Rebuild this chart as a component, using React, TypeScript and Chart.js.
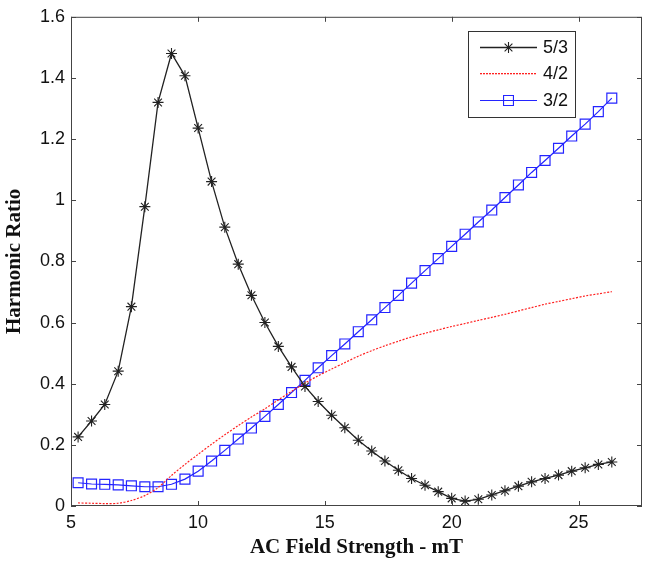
import React, { useEffect, useRef } from "react";
import { Chart, registerables } from "chart.js";

Chart.register(...registerables);

const fieldStrength = [
  5.28, 5.81, 6.33, 6.86, 7.38, 7.91, 8.43, 8.96, 9.49, 10.01,
  10.54, 11.06, 11.59, 12.11, 12.64, 13.17, 13.69, 14.22, 14.74, 15.27,
  15.79, 16.32, 16.85, 17.37, 17.9, 18.42, 18.95, 19.47, 20.0, 20.53,
  21.05, 21.58, 22.1, 22.63, 23.15, 23.68, 24.21, 24.73, 25.26, 25.78, 26.31,
];

const ratio53 = [
  0.226, 0.278, 0.332, 0.441, 0.652, 0.979, 1.32, 1.48, 1.407, 1.236,
  1.061, 0.912, 0.791, 0.689, 0.6, 0.522, 0.455, 0.391, 0.342, 0.297,
  0.256, 0.215, 0.18, 0.147, 0.117, 0.09, 0.068, 0.047, 0.025, 0.016,
  0.022, 0.036, 0.05, 0.065, 0.079, 0.09, 0.101, 0.114, 0.125, 0.136, 0.144,
];

const ratio42 = [
  0.01, 0.009, 0.008, 0.009, 0.018, 0.034, 0.06, 0.1, 0.136, 0.169,
  0.202, 0.233, 0.263, 0.291, 0.318, 0.347, 0.375, 0.402, 0.426, 0.448,
  0.469, 0.49, 0.508, 0.524, 0.539, 0.553, 0.565, 0.576, 0.587, 0.597,
  0.607, 0.617, 0.627, 0.638, 0.649, 0.66, 0.669, 0.678, 0.687, 0.694, 0.701,
];

const ratio32 = [
  0.076, 0.072, 0.071, 0.069, 0.066, 0.063, 0.063, 0.071, 0.088, 0.114,
  0.147, 0.182, 0.219, 0.255, 0.293, 0.332, 0.371, 0.411, 0.452, 0.492,
  0.53, 0.57, 0.609, 0.649, 0.689, 0.729, 0.77, 0.809, 0.849, 0.889,
  0.929, 0.968, 1.009, 1.05, 1.091, 1.13, 1.17, 1.21, 1.249, 1.29, 1.334,
];

const seriesLabels = ["5/3", "4/2", "3/2"];
const seriesColors = ["#222222", "#ff2020", "#2424ff"];
const xTickValues = [5, 10, 15, 20, 25];
const yTickValues = [0, 0.2, 0.4, 0.6, 0.8, 1, 1.2, 1.4, 1.6];

const SANS = "'Liberation Sans', Arial, sans-serif";
const SERIF = "'Liberation Serif', 'Times New Roman', serif";

const toPoints = (ys: number[]) => ys.map((y, i) => ({ x: fieldStrength[i], y }));

function drawMarker(ctx: CanvasRenderingContext2D, style: string, r: number, x: number, y: number) {
  ctx.beginPath();
  if (style === "rect") {
    const s = Math.SQRT1_2 * r;
    ctx.rect(x - s, y - s, 2 * s, 2 * s);
  } else if (style === "star") {
    ctx.moveTo(x - r, y);
    ctx.lineTo(x + r, y);
    ctx.moveTo(x, y - r);
    ctx.lineTo(x, y + r);
    const d = r * Math.SQRT1_2;
    ctx.moveTo(x - d, y - d);
    ctx.lineTo(x + d, y + d);
    ctx.moveTo(x - d, y + d);
    ctx.lineTo(x + d, y - d);
  }
  ctx.stroke();
}

const legendStyles = [
  { dotted: false, width: 1.3, marker: "star", radius: 5.5 },
  { dotted: true, width: 1.2, marker: "", radius: 0 },
  { dotted: false, width: 1.2, marker: "rect", radius: 7 },
];

const framePlugin = {
  id: "frameAndLegend",
  afterDraw(chart: any) {
    const { ctx, chartArea } = chart;
    const { left, right, top, bottom } = chartArea;
    const xs = chart.scales.x;
    const ys = chart.scales.y;
    ctx.save();
    ctx.setLineDash([]);
    ctx.strokeStyle = "#444";
    ctx.lineWidth = 1;
    ctx.strokeRect(left + 0.5, top + 0.5, right - left - 1, bottom - top - 1);
    const tl = 5;
    ctx.beginPath();
    xTickValues.forEach((v) => {
      const px = Math.round(xs.getPixelForValue(v)) + 0.5;
      ctx.moveTo(px, bottom);
      ctx.lineTo(px, bottom - tl);
      ctx.moveTo(px, top);
      ctx.lineTo(px, top + tl);
    });
    yTickValues.forEach((v) => {
      const py = Math.round(ys.getPixelForValue(v)) + 0.5;
      ctx.moveTo(left, py);
      ctx.lineTo(left + tl, py);
      ctx.moveTo(right, py);
      ctx.lineTo(right - tl, py);
    });
    ctx.stroke();

    // legend
    const bx = 468.5, by = 31.5, bw = 107, bh = 86;
    ctx.fillStyle = "#fff";
    ctx.fillRect(bx, by, bw, bh);
    ctx.strokeStyle = "#333";
    ctx.strokeRect(bx, by, bw, bh);
    const rowsY = [47, 73, 100];
    seriesLabels.forEach((label, i) => {
      const y = rowsY[i];
      const st = legendStyles[i];
      if (st.dotted) {
        ctx.fillStyle = seriesColors[i];
        for (let x = 480; x < 537; x += 3) {
          ctx.fillRect(x, y, 2, 1.3);
        }
      } else {
        ctx.strokeStyle = seriesColors[i];
        ctx.lineWidth = st.width;
        ctx.beginPath();
        ctx.moveTo(480, y + 0.5);
        ctx.lineTo(537, y + 0.5);
        ctx.stroke();
      }
      if (st.marker) {
        ctx.strokeStyle = seriesColors[i];
        ctx.lineWidth = 1.1;
        drawMarker(ctx, st.marker, st.radius, 508.5, y + 0.5);
      }
      ctx.fillStyle = "#111";
      ctx.font = `18px ${SANS}`;
      ctx.textAlign = "left";
      ctx.textBaseline = "middle";
      ctx.fillText(label, 543, y + 1.5);
    });
    ctx.restore();
  },
};

export default function App() {
  const canvasRef = useRef<HTMLCanvasElement | null>(null);

  useEffect(() => {
    if (!canvasRef.current) return;
    const chart = new Chart(canvasRef.current, {
      type: "line",
      data: {
        datasets: [
          {
            label: seriesLabels[0],
            data: toPoints(ratio53),
            borderColor: seriesColors[0],
            borderWidth: 1.3,
            pointStyle: "star",
            pointRadius: 5.5,
            pointBorderColor: seriesColors[0],
            pointBorderWidth: 1.1,
            pointBackgroundColor: "transparent",
            tension: 0,
            fill: false,
          },
          {
            label: seriesLabels[1],
            data: toPoints(ratio42),
            borderColor: seriesColors[1],
            borderWidth: 1.2,
            borderDash: [2, 1.5],
            pointRadius: 0,
            tension: 0.3,
            fill: false,
          },
          {
            label: seriesLabels[2],
            data: toPoints(ratio32),
            borderColor: seriesColors[2],
            borderWidth: 1.2,
            pointStyle: "rect",
            pointRadius: 7,
            pointBorderColor: seriesColors[2],
            pointBorderWidth: 1.2,
            pointBackgroundColor: "transparent",
            tension: 0,
            fill: false,
          },
        ],
      },
      options: {
        animation: false,
        responsive: false,
        events: [],
        layout: { padding: { top: 15, right: 9, left: 0, bottom: 0 } },
        plugins: {
          legend: { display: false },
          tooltip: { enabled: false },
        },
        scales: {
          x: {
            type: "linear",
            min: 5,
            max: 27.5,
            afterFit: (s: any) => {
              s.height = 64;
            },
            afterBuildTicks: (s: any) => {
              s.ticks = xTickValues.map((v) => ({ value: v }));
            },
            grid: { display: false, drawTicks: false },
            border: { display: false },
            ticks: {
              padding: 6,
              color: "#111",
              font: { family: SANS, size: 18 },
              maxRotation: 0,
              callback: (v: any) => String(v),
            },
            title: {
              display: true,
              text: "AC Field Strength - mT",
              color: "#111",
              font: { family: SERIF, size: 21, weight: "bold" },
              padding: { top: 0, bottom: 10 },
            },
          },
          y: {
            type: "linear",
            min: 0,
            max: 1.6,
            afterFit: (s: any) => {
              s.width = 71;
            },
            afterBuildTicks: (s: any) => {
              s.ticks = yTickValues.map((v) => ({ value: v }));
            },
            grid: { display: false, drawTicks: false },
            border: { display: false },
            ticks: {
              padding: 6,
              color: "#111",
              font: { family: SANS, size: 18 },
              callback: (v: any) => String(Math.round(v * 10) / 10),
            },
            title: {
              display: true,
              text: "Harmonic Ratio",
              color: "#111",
              font: { family: SERIF, size: 21, weight: "bold" },
              padding: { top: 2, bottom: 0 },
            },
          },
        },
      },
      plugins: [framePlugin],
    });
    return () => chart.destroy();
  }, []);

  return (
    <div style={{ position: "absolute", left: 0, top: 0, width: 651, height: 570, background: "#fff" }}>
      <canvas ref={canvasRef} width={651} height={570} style={{ display: "block" }} />
    </div>
  );
}
